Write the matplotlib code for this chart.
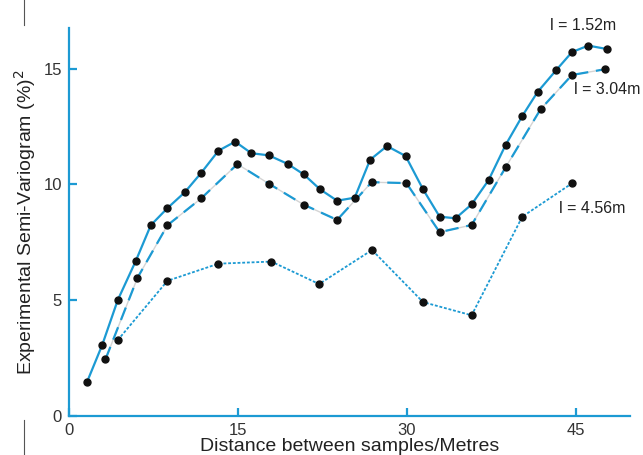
import matplotlib.pyplot as plt
import numpy as np

plt.rcParams['font.family'] = ['Liberation Sans', 'DejaVu Sans']

blue = '#1c9ad3'

# lag distance (m) and semi-variogram values for the three sample spacings
dist_152 = [1.61, 2.95, 4.33, 5.93, 7.26, 8.74, 10.27, 11.73, 13.27, 14.75, 16.19,
            17.73, 19.41, 20.83, 22.29, 23.80, 25.36, 26.73, 28.23, 29.88, 31.43,
            32.90, 34.32, 35.74, 37.25, 38.76, 40.24, 41.60, 43.23, 44.65, 46.10, 47.76]
gamma_152 = [1.48, 3.07, 5.01, 6.70, 8.24, 8.98, 9.66, 10.50, 11.46, 11.85, 11.35,
             11.26, 10.89, 10.44, 9.79, 9.30, 9.43, 11.07, 11.66, 11.23, 9.79,
             8.61, 8.54, 9.14, 10.19, 11.71, 12.96, 14.00, 14.93, 15.72, 16.00, 15.85]

dist_304 = [3.24, 6.08, 8.74, 11.73, 14.95, 17.79, 20.83, 23.80, 26.87, 29.95,
            32.90, 35.74, 38.76, 41.86, 44.65, 47.60]
gamma_304 = [2.45, 5.97, 8.24, 9.40, 10.88, 10.02, 9.13, 8.47, 10.10, 10.06,
             7.94, 8.25, 10.74, 13.25, 14.73, 14.98]

dist_456 = [4.33, 8.74, 13.27, 17.97, 22.20, 26.90, 31.43, 35.74, 40.24, 44.65]
gamma_456 = [3.28, 5.84, 6.58, 6.67, 5.70, 7.17, 4.92, 4.35, 8.61, 10.05]

fig = plt.figure(figsize=(6.43, 4.55), dpi=100)
ax = fig.add_axes([69 / 643, 39 / 455, 561 / 643, 388 / 455])

ax.plot(dist_152, gamma_152, '-', color=blue, lw=1.6, zorder=3)

# dashed series sits on a faint grey guide line
ax.plot(dist_304, gamma_304, '-', color='#d4d4d4', lw=1.0, zorder=2)
ax.plot(dist_304, gamma_304, color=blue, lw=1.6, dashes=(6, 3.5), zorder=3)

ax.plot(dist_456, gamma_456, color=blue, lw=1.3, dashes=(1.6, 1.0), zorder=3)

for xs, ys in [(dist_152, gamma_152), (dist_304, gamma_304), (dist_456, gamma_456)]:
    ax.plot(xs, ys, 'o', color='#111111', ms=5, zorder=4)

ax.text(48.6, 16.85, 'l = 1.52m', fontsize=11.5, ha='right', va='center', color='#222222')
ax.text(44.8, 14.1, 'l = 3.04m', fontsize=11.5, ha='left', va='center', color='#222222')
ax.text(43.5, 8.95, 'l = 4.56m', fontsize=11.5, ha='left', va='center', color='#222222')

ax.set_xlim(0, 49.8)
ax.set_ylim(0, 16.76)
ax.set_xticks([0, 15, 30, 45])
ax.set_yticks([0, 5, 10, 15])

for side in ['top', 'right']:
    ax.spines[side].set_visible(False)
for side in ['left', 'bottom']:
    ax.spines[side].set_color(blue)
    ax.spines[side].set_linewidth(1.6)

ax.tick_params(direction='in', length=6, width=1.6, color=blue,
               labelsize=12, labelcolor='#333333')
ax.tick_params(axis='x', pad=5)
ax.tick_params(axis='y', pad=5)

ax.set_xlabel('Distance between samples/Metres', fontsize=14, color='#222222', labelpad=0)
ax.set_ylabel('Experimental Semi-Variogram (%)$^2$', fontsize=14, color='#222222', labelpad=4)

# thin scan edge marks on the left
fig.add_artist(plt.Line2D([24 / 643, 24 / 643], [1, 430 / 455], color='#555555', lw=0.8))
fig.add_artist(plt.Line2D([24 / 643, 24 / 643], [0, 35 / 455], color='#555555', lw=0.8))

fig.savefig('out.png', dpi=100, facecolor='white')
